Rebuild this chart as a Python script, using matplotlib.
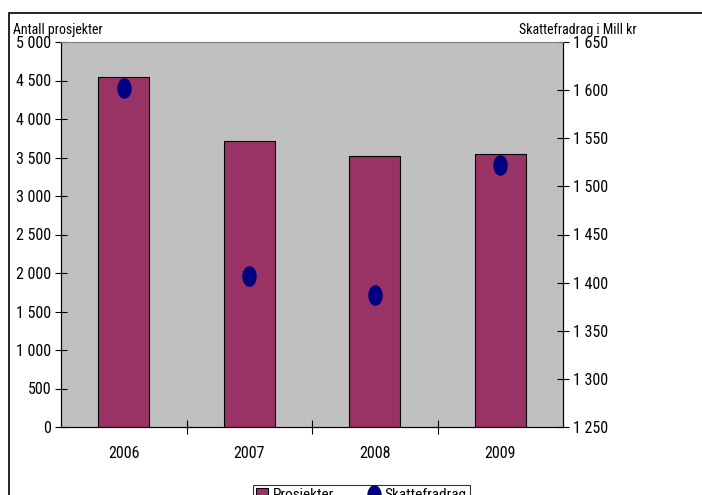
import numpy as np
import matplotlib
matplotlib.use("Agg")
import matplotlib.pyplot as plt
from matplotlib.path import Path
from matplotlib.patches import Rectangle
from matplotlib.ticker import FuncFormatter, FixedLocator

plt.rcParams['font.family'] = ['Roboto Condensed', 'Liberation Sans', 'DejaVu Sans']

years = ['2006', '2007', '2008', '2009']
prosjekter = [4550, 3720, 3520, 3545]
skattefradrag = [1602, 1407, 1387, 1522]


def space_fmt(v, pos):
    return '{:,.0f}'.format(v).replace(',', ' ')


# vertically stretched dot like the original
t = np.linspace(0, 2 * np.pi, 60)
ellipse = Path(np.column_stack([0.68 * np.cos(t), np.sin(t)]))

fig = plt.figure(figsize=(7.02, 4.95), dpi=100)
fig.patches.append(Rectangle((9 / 702, -0.1), 1.2, 1 - 13 / 495 + 0.1,
                             transform=fig.transFigure, fill=False,
                             edgecolor='black', linewidth=1.2))

ax = fig.add_axes([61 / 702, 1 - 427 / 495, 502 / 702, 385 / 495])
ax.set_facecolor('#C0C0C0')
x = np.arange(len(years))
ax.bar(x, prosjekter, width=0.41, color='#993366', edgecolor='black',
       linewidth=0.8, label='Prosjekter', zorder=2)
ax.set_xlim(-0.5, len(years) - 0.5)
ax.set_ylim(0, 5000)
ax.set_yticks(np.arange(0, 5001, 500))
ax.yaxis.set_major_formatter(FuncFormatter(space_fmt))
ax.set_xticks(x)
ax.set_xticklabels(years)
ax.xaxis.set_minor_locator(FixedLocator(x[:-1] + 0.5))
ax.tick_params(axis='x', which='major', length=0, pad=14, labelsize=11.5)
ax.tick_params(axis='x', which='minor', direction='inout', length=10, width=0.8)
ax.tick_params(axis='y', direction='inout', length=8, width=0.8, labelsize=11.5, pad=3)
ax.spines['top'].set_color('#808080')
ax.spines['left'].set_color('#404040')

ax2 = ax.twinx()
ax2.scatter(x, skattefradrag, marker=ellipse, s=190, color='#000080',
            label='Skattefradrag', zorder=3)
ax2.set_ylim(1250, 1650)
ax2.set_yticks(np.arange(1250, 1651, 50))
ax2.yaxis.set_major_formatter(FuncFormatter(space_fmt))
ax2.tick_params(axis='y', direction='inout', length=8, width=0.8, labelsize=11.5, pad=3)
ax2.spines['top'].set_color('#808080')

fig.text(13 / 702, 1 - 30 / 495, 'Antall prosjekter', fontsize=10, va='center', ha='left')
fig.text(637 / 702, 1 - 30 / 495, 'Skattefradrag i Mill kr', fontsize=10, va='center', ha='right')

h1, l1 = ax.get_legend_handles_labels()
h2, l2 = ax2.get_legend_handles_labels()
leg = fig.legend(h1 + h2, l1 + l2, loc='upper left', ncol=2,
                 bbox_to_anchor=(253 / 702, 1 - 485 / 495), fancybox=False,
                 edgecolor='black', fontsize=11, handlelength=0.8,
                 handletextpad=0.3, columnspacing=2.2, borderaxespad=0,
                 borderpad=0.2)
leg.get_frame().set_linewidth(0.8)

fig.savefig('out.png', dpi=100)
